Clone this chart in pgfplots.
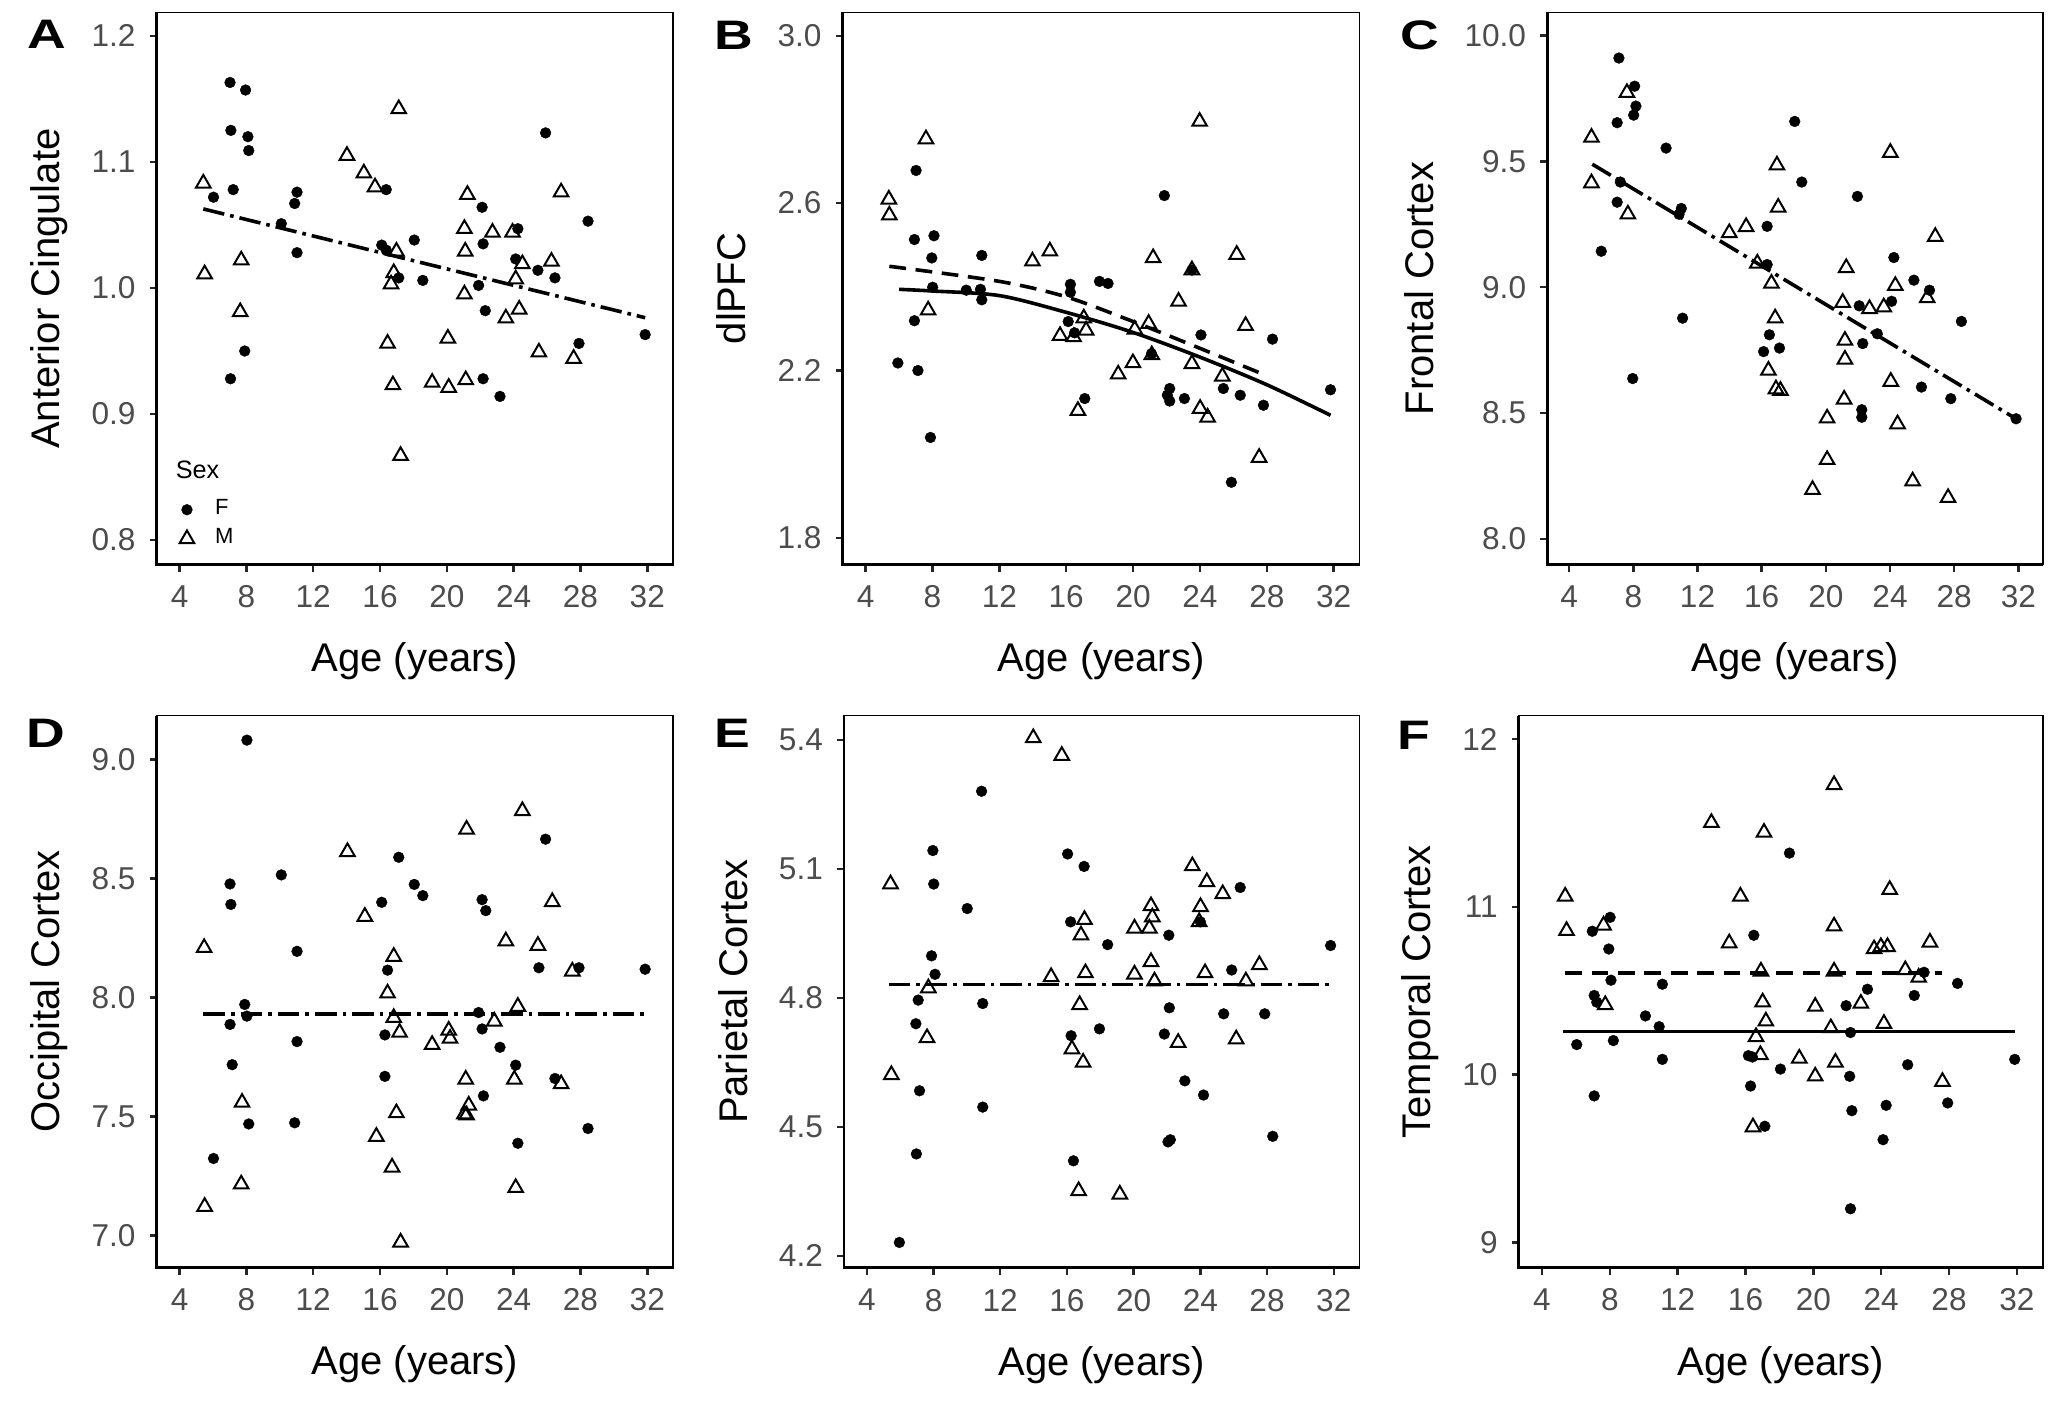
\documentclass[border=0pt]{standalone}
\usepackage{fontspec}
\setmainfont{Liberation Sans}
\usepackage{pgfplots}
\pgfplotsset{compat=1.18}
\pgfplotsset{
  panel/.style={
    scale only axis, height=138.05pt,
    xmin=2.63, xmax=33.55, xtick={4,8,12,16,20,24,28,32},
    tick align=outside, tick pos=left, major tick length=1.75pt,
    tick style={line width=0.6pt, black!85},
    axis line style={line width=0.4pt, black},
    tick label style={font=\fontsize{7.9}{9}\selectfont, text=black!70},
    /pgf/number format/assume math mode=true,
    xlabel={Age (years)},
    label style={font=\fontsize{10.2}{12}\selectfont},
    every axis x label/.style={at={(axis description cs:0.5,0)}, anchor=base, yshift=-26.8pt},
    extra description/.code={\draw[line width=0.7pt, black] (axis description cs:0,1) -- (axis description cs:0,0) -- (axis description cs:1,0);},
  },
  ylab/.style={every axis y label/.style={at={(axis description cs:#1,0.5)}, rotate=90, anchor=base}},
  onedec/.style={yticklabel style={/pgf/number format/.cd, fixed, fixed zerofill, precision=1}},
  fpts/.style={only marks, mark=*, mark size=1.35pt, mark options={fill=black, draw=black, line width=0.1pt}},
  mpts/.style={only marks, mark=triangle, mark size=2.1pt, mark options={draw=black, line width=0.5pt, fill=none}},
  dashdot/.style={black, line width=0.9pt, dash pattern=on 5.4pt off 1.5pt on 0.9pt off 1.5pt, forget plot},
  dashedfit/.style={black, line width=0.9pt, dash pattern=on 4.2pt off 2.4pt, forget plot},
  solidfit/.style={black, line width=0.9pt, forget plot},
}
\newcommand{\plet}[1]{\scalebox{1.3}[1]{\bfseries\fontsize{10.3}{12}\selectfont #1}}
\begin{document}
\begin{tikzpicture}
\useasboundingbox (0,0) rectangle (517.5pt,-350.25pt);
\node at (11.75pt,-8.5pt) {\plet{A}};
\node at (183.4pt,-8.9pt) {\plet{B}};
\node at (354.95pt,-8.75pt) {\plet{C}};
\node at (11.4pt,-183.4pt) {\plet{D}};
\node at (183.1pt,-183.25pt) {\plet{E}};
\node at (353.4pt,-183.9pt) {\plet{F}};

% ---------- A ----------
\begin{axis}[panel, at={(39.175pt,-3.125pt)}, anchor=north west, width=129.125pt,
  ymin=0.7805, ymax=1.2185, ytick={0.8,0.9,1.0,1.1,1.2}, onedec,
  ylabel={Anterior Cingulate}, ylab=-0.1874,
  legend image code/.code={\draw[#1] plot coordinates {(0pt,0pt)};},
  legend style={at={(axis description cs:0.0445,0.123)}, anchor=north west, draw=none, fill=none,
    inner sep=0pt, outer sep=0pt, font=\fontsize{5.5}{6.5}\selectfont, row sep=0.8pt, column sep=4.6pt,
    nodes={inner sep=0.6pt}},
  legend cell align=left]
\addplot[fpts] coordinates {(7.02,1.163)(7.95,1.157)(7.07,1.125)(8.09,1.120)(8.14,1.109)(7.21,1.078)(6.03,1.072)(11.03,1.076)(10.89,1.067)(10.09,1.051)(11.03,1.028)(7.90,0.950)(7.05,0.928)(16.37,1.078)(16.10,1.034)(16.37,1.030)(18.05,1.038)(17.12,1.008)(18.56,1.006)(22.11,1.064)(22.17,1.035)(21.90,1.002)(22.30,0.982)(22.17,0.928)(23.18,0.914)(24.25,1.047)(24.12,1.023)(25.45,1.014)(25.91,1.123)(26.47,1.008)(28.45,1.053)(27.91,0.956)(31.87,0.963)};
\addplot[mpts] coordinates {(5.42,1.083)(5.50,1.011)(7.69,1.022)(7.63,0.981)(14.02,1.105)(15.03,1.091)(15.70,1.080)(17.12,1.142)(16.98,1.029)(16.82,1.012)(16.66,1.003)(16.45,0.956)(16.77,0.923)(17.23,0.867)(19.12,0.925)(20.11,0.921)(20.06,0.960)(21.13,0.927)(21.23,1.074)(21.05,1.047)(21.10,1.029)(21.05,0.995)(22.73,1.044)(23.93,1.044)(24.12,1.007)(23.53,0.976)(24.33,0.983)(24.52,1.019)(25.51,0.949)(26.26,1.021)(26.84,1.076)(27.59,0.944)};
\addplot[dashdot] coordinates {(5.42,1.0627)(31.87,0.9764)};
\legend{F,M}
\node[anchor=west, inner sep=0pt, font=\fontsize{6.3}{7}\selectfont] at (axis description cs:0.0354,0.1715) {Sex};
\end{axis}

% ---------- B ----------
\begin{axis}[panel, at={(210.675pt,-3.125pt)}, anchor=north west, width=129.225pt,
  ymin=1.736, ymax=3.0555, ytick={1.8,2.2,2.6,3.0}, onedec,
  ylabel={dlPFC}, ylab=-0.1873]
\addplot[fpts] coordinates {(7.02,2.678)(6.92,2.513)(8.09,2.522)(7.96,2.469)(8.01,2.399)(6.92,2.319)(5.93,2.218)(7.13,2.200)(7.88,2.040)(10.95,2.475)(10.02,2.392)(10.87,2.394)(10.95,2.369)(16.25,2.406)(16.25,2.387)(16.12,2.317)(17.99,2.413)(18.50,2.408)(17.11,2.133)(21.87,2.618)(22.19,2.157)(22.05,2.141)(22.19,2.127)(23.07,2.133)(24.06,2.285)(25.40,2.157)(26.41,2.141)(25.88,1.933)(27.80,2.117)(28.34,2.275)(31.81,2.154)(23.52,2.440)(16.5,2.29)(21.1,2.24)};
\addplot[mpts] coordinates {(5.39,2.609)(5.42,2.571)(7.61,2.753)(7.74,2.344)(13.98,2.461)(15.02,2.485)(15.63,2.283)(16.44,2.280)(16.70,2.104)(17.05,2.325)(17.19,2.296)(19.11,2.191)(19.99,2.218)(20.10,2.298)(20.93,2.312)(21.20,2.469)(21.12,2.237)(22.72,2.365)(23.52,2.216)(23.98,2.795)(23.52,2.440)(24.01,2.109)(24.46,2.088)(25.34,2.186)(26.20,2.477)(26.73,2.307)(27.54,1.992)};
\addplot[dashedfit, smooth] coordinates {(5.42,2.449)(12,2.413)(16,2.376)(20,2.317)(24,2.253)(27.54,2.195)};
\addplot[solidfit, smooth] coordinates {(6.0,2.394)(8,2.390)(12,2.379)(16,2.339)(20,2.291)(24,2.232)(28,2.166)(31.81,2.093)};
\end{axis}

% ---------- C ----------
\begin{axis}[panel, at={(386.8pt,-3.125pt)}, anchor=north west, width=124.0pt,
  ymin=7.897, ymax=10.092, ytick={8.0,8.5,9.0,9.5,10.0}, onedec,
  ylabel={Frontal Cortex}, ylab=-0.2298]
\addplot[fpts] coordinates {(7.10,9.911)(8.08,9.799)(8.16,9.720)(8.02,9.684)(6.99,9.654)(7.19,9.418)(6.99,9.338)(6.00,9.143)(10.04,9.553)(10.99,9.313)(10.85,9.290)(11.07,8.877)(7.96,8.637)(18.06,9.659)(18.50,9.418)(16.34,9.242)(16.34,9.090)(16.48,8.811)(16.12,8.744)(17.11,8.758)(21.97,9.361)(22.08,8.926)(22.30,8.776)(22.24,8.513)(22.24,8.483)(23.21,8.815)(24.24,9.118)(24.10,8.944)(25.49,9.028)(26.46,8.988)(25.96,8.603)(27.79,8.557)(28.45,8.864)(31.86,8.477)};
\addplot[mpts] coordinates {(5.39,9.595)(5.39,9.414)(7.60,9.773)(7.66,9.290)(13.98,9.216)(15.03,9.240)(15.73,9.095)(16.95,9.485)(17.03,9.317)(16.61,9.015)(16.84,8.877)(16.42,8.669)(16.89,8.595)(17.17,8.589)(19.17,8.195)(20.08,8.479)(20.08,8.314)(21.05,8.939)(21.27,9.077)(21.19,8.788)(21.19,8.713)(21.14,8.554)(22.72,8.914)(23.61,8.921)(24.02,9.535)(24.33,9.006)(24.05,8.625)(24.47,8.456)(25.41,8.229)(26.32,8.957)(26.82,9.201)(27.62,8.163)};
\addplot[dashdot] coordinates {(5.44,9.489)(31.86,8.477)};
\end{axis}

% ---------- D ----------
\begin{axis}[panel, at={(39.175pt,-178.9pt)}, anchor=north west, width=129.125pt,
  ymin=6.865, ymax=9.184, ytick={7.0,7.5,8.0,8.5,9.0}, onedec,
  ylabel={Occipital Cortex}, ylab=-0.1874]
\addplot[fpts] coordinates {(8.03,9.081)(7.02,8.477)(7.07,8.391)(7.90,7.971)(8.03,7.922)(7.02,7.887)(7.15,7.718)(8.14,7.469)(6.03,7.324)(10.09,8.515)(11.03,8.194)(11.03,7.815)(10.89,7.474)(17.12,8.589)(16.10,8.400)(16.45,8.115)(16.29,7.843)(16.29,7.669)(18.05,8.475)(18.56,8.428)(22.11,8.411)(22.33,8.365)(21.90,7.937)(22.11,7.868)(22.19,7.587)(23.18,7.791)(24.12,7.716)(24.25,7.388)(25.91,8.665)(25.51,8.125)(26.47,7.660)(27.91,8.125)(28.45,7.450)(31.87,8.119)};
\addplot[mpts] coordinates {(5.47,8.209)(5.50,7.122)(7.74,7.559)(7.69,7.216)(14.05,8.612)(15.09,8.340)(15.78,7.416)(16.82,8.172)(16.45,8.018)(16.82,7.915)(17.17,7.853)(16.98,7.515)(16.72,7.287)(17.23,6.972)(19.12,7.802)(20.11,7.862)(20.19,7.828)(21.18,8.706)(21.13,7.656)(21.31,7.547)(21.05,7.510)(21.18,7.506)(22.84,7.900)(23.53,8.237)(24.25,7.962)(24.04,7.656)(24.12,7.201)(24.52,8.784)(25.45,8.218)(26.31,8.402)(26.84,7.637)(27.51,8.110)};
\addplot[dashdot] coordinates {(5.42,7.932)(31.87,7.932)};
\end{axis}

% ---------- E ----------
\begin{axis}[panel, at={(211.0pt,-178.9pt)}, anchor=north west, width=128.9pt,
  ymin=4.172, ymax=5.457, ytick={4.2,4.5,4.8,5.1,5.4}, onedec,
  ylabel={Parietal Cortex}, ylab=-0.1877]
\addplot[fpts] coordinates {(7.96,5.143)(8.01,5.065)(7.88,4.898)(8.09,4.855)(7.08,4.795)(6.94,4.740)(7.16,4.584)(6.97,4.437)(5.95,4.231)(10.02,5.008)(10.88,5.281)(10.95,4.787)(10.95,4.546)(16.04,5.135)(17.03,5.106)(16.22,4.977)(16.25,4.712)(16.39,4.421)(18.44,4.924)(17.95,4.728)(22.11,4.946)(22.14,4.777)(21.84,4.716)(23.07,4.607)(24.19,4.574)(22.20,4.470)(22.06,4.465)(24.00,4.977)(26.39,5.057)(25.88,4.865)(25.40,4.763)(27.86,4.763)(28.34,4.478)(31.81,4.922)};
\addplot[mpts] coordinates {(5.42,5.065)(5.47,4.621)(7.69,4.823)(7.61,4.707)(13.98,5.405)(15.69,5.364)(15.05,4.849)(17.05,4.982)(16.84,4.946)(17.11,4.858)(16.76,4.784)(16.30,4.681)(16.97,4.650)(16.70,4.351)(19.17,4.343)(20.05,4.962)(20.05,4.855)(21.04,5.014)(21.12,4.988)(20.94,4.962)(21.04,4.884)(21.25,4.839)(22.67,4.696)(23.52,5.107)(24.01,5.012)(23.93,4.977)(24.39,5.070)(24.28,4.858)(25.34,5.042)(26.15,4.704)(26.73,4.839)(27.54,4.877)};
\addplot[dashdot] coordinates {(5.3,4.831)(31.85,4.831)};
\end{axis}

% ---------- F ----------
\begin{axis}[panel, at={(379.675pt,-178.9pt)}, anchor=north west, width=131.125pt,
  ymin=8.848, ymax=12.141, ytick={9,10,11,12},
  ylabel={Temporal Cortex}, ylab=-0.1685]
\addplot[fpts] coordinates {(8.02,10.938)(6.97,10.855)(7.94,10.749)(8.07,10.563)(7.08,10.472)(7.23,10.432)(6.05,10.179)(8.21,10.203)(7.08,9.873)(11.10,10.539)(10.10,10.350)(10.91,10.286)(11.10,10.091)(16.49,10.831)(16.17,10.113)(16.41,10.105)(16.30,9.932)(17.14,9.692)(18.59,11.321)(18.06,10.033)(21.93,10.411)(22.19,10.251)(22.14,9.990)(22.27,9.785)(22.19,9.200)(23.19,10.509)(24.29,9.817)(24.11,9.612)(26.53,10.610)(25.95,10.472)(25.56,10.059)(28.50,10.544)(27.92,9.831)(31.87,10.091)};
\addplot[mpts] coordinates {(5.37,11.063)(5.45,10.858)(7.63,10.890)(7.73,10.416)(13.99,11.502)(15.04,10.784)(15.70,11.063)(17.09,11.444)(16.91,10.616)(17.01,10.432)(17.20,10.318)(16.62,10.225)(16.88,10.118)(16.44,9.687)(19.17,10.097)(20.11,9.990)(20.11,10.406)(21.22,11.728)(21.22,10.885)(21.22,10.616)(21.03,10.278)(21.30,10.073)(22.80,10.424)(23.58,10.749)(23.98,10.762)(24.37,10.762)(24.50,11.103)(24.16,10.304)(25.42,10.624)(26.21,10.579)(26.87,10.789)(27.61,9.958)};
\addplot[dashedfit] coordinates {(5.37,10.605)(27.6,10.605)};
\addplot[solidfit] coordinates {(5.24,10.256)(31.87,10.256)};
\end{axis}
\end{tikzpicture}
\end{document}
